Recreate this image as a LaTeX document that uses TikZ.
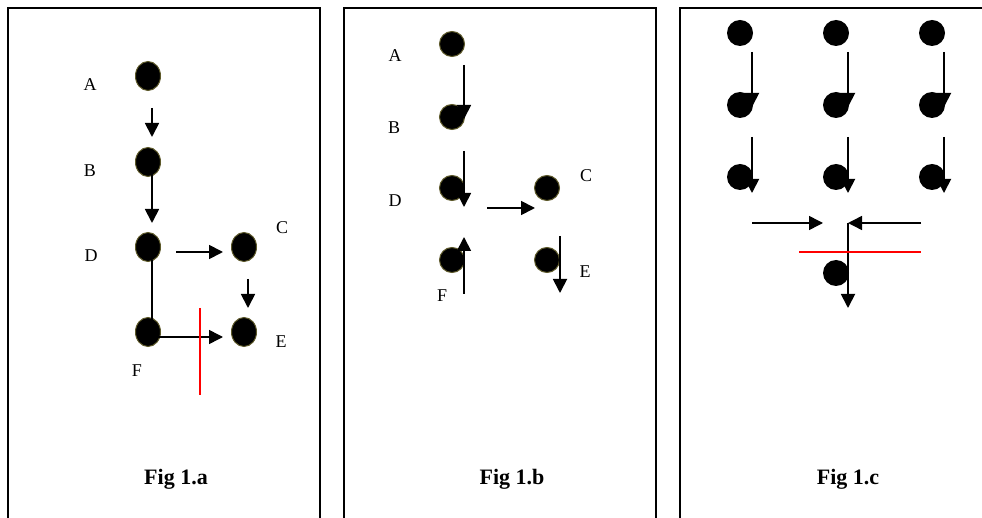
\documentclass[tikz,border=0pt]{standalone}
\usepackage{fontspec}
\setmainfont{Liberation Serif}
\usetikzlibrary{shapes.geometric, calc, arrows.meta}

\begin{document}
\begin{tikzpicture}[x=1pt,y=-1pt,
  dot/.style={draw=olive!55!black,fill=black,ellipse,inner sep=0pt,line width=1pt,minimum width=25pt,minimum height=29pt},
  rdot/.style={dot,minimum height=25pt},
  bdot/.style={dot,draw=none,minimum width=26pt,minimum height=26pt},
  lbl/.style={anchor=base,inner sep=0pt,font=\fontsize{18}{21}\selectfont},
  figcap/.style={anchor=base,inner sep=0pt,font=\fontsize{22}{26}\selectfont\bfseries},
  arr/.style={-{Triangle[width=14pt,length=14pt]},line width=1.8pt},
  cut/.style={red,line width=1.6pt}]
  \useasboundingbox (0,0) rectangle (982,518);
  % panel frames
  \draw[line width=2pt] (8,518) -- (8,8) -- (320,8) -- (320,518);
  \draw[line width=2pt] (344,518) -- (344,8) -- (656,8) -- (656,518);
  \draw[line width=2pt] (680,518) -- (680,8) -- (982,8);

  % Fig 1.a
  \path (148,76) node[dot] (a1) {} (148,162) node[dot] (b1) {} (148,247) node[dot] (d1) {}
  (148,332) node[dot] (f1) {} (244,247) node[dot] (c1) {} (244,332) node[dot] (e1) {};
  \path (90,91) node[lbl] (la1) {A} (90,177) node[lbl] (lb1) {B} (91,262) node[lbl] (ld1) {D}
  (282,234) node[lbl] (lc1) {C} (281,348) node[lbl] (le1) {E} (137,377) node[lbl] (lf1) {F};
  \draw[arr] ($(a1)+(4,32)$) -- ($(b1)+(4,-25)$);
  \draw[arr] ($(b1)+(4,11)$) -- ($(d1)+(4,-24)$);
  \draw[arr] ($(d1)+(28,5)$) -- ($(c1)+(-21,5)$);
  \draw[arr] ($(c1)+(4,32)$) -- ($(e1)+(4,-24)$);
  \draw[line width=1.8pt] ($(d1)+(4,13)$) -- ($(f1)+(4,-9)$);
  \draw[arr,line width=1.5pt] ($(f1)+(9,5)$) -- ($(e1)+(-21,5)$);
  \draw[cut] (200,308) -- (200,395);
  \node[figcap] (cap1) at (176,484) {Fig 1.a};

  % Fig 1.b
  \path (452,44) node[rdot] (a2) {} (452,117) node[rdot] (b2) {} (452,188) node[rdot] (d2) {}
  (452,260) node[rdot] (f2) {} (547,188) node[rdot] (c2) {} (547,260) node[rdot] (e2) {};
  \path (395,62) node[lbl] (la2) {A} (394,134) node[lbl] (lb2) {B} (395,207) node[lbl] (ld2) {D}
  (586,182) node[lbl] (lc2) {C} (585,278) node[lbl] (le2) {E} (442,302) node[lbl] (lf2) {F};
  \draw[arr] ($(a2)+(12,21)$) -- ($(b2)+(12,2)$);
  \draw[arr] ($(b2)+(12,34)$) -- ($(d2)+(12,19)$);
  \draw[arr] ($(d2)+(35,20)$) -- ($(c2)+(-12,20)$);
  \draw[arr] ($(f2)+(12,34)$) -- ($(f2)+(12,-23)$);
  \draw[arr] ($(e2)+(13,-24)$) -- ($(e2)+(13,33)$);
  \node[figcap] (cap2) at (512,484) {Fig 1.b};

  % Fig 1.c
  \foreach \i/\x in {1/740,2/836,3/932} {
    \path (\x,33) node[bdot] (r1c\i) {} (\x,105) node[bdot] (r2c\i) {} (\x,177) node[bdot] (r3c\i) {};
    \draw[arr] ($(r1c\i)+(12,19)$) -- ($(r2c\i)+(12,2)$);
    \draw[arr] ($(r2c\i)+(12,32)$) -- ($(r3c\i)+(12,16)$);
  }
  \node[bdot] (sink) at (836,273) {};
  \coordinate (jn) at (848,223);
  \draw[arr,line width=1.5pt] ($(jn)+(-96,0)$) -- ($(jn)+(-25,0)$);
  \draw[arr,line width=1.5pt] ($(jn)+(73,0)$) -- (jn);
  \draw[arr] (jn) -- ($(sink)+(12,35)$);
  \draw[cut] (799,252) -- (921,252);
  \node[figcap] (cap3) at (848,484) {Fig 1.c};
\end{tikzpicture}
\end{document}
